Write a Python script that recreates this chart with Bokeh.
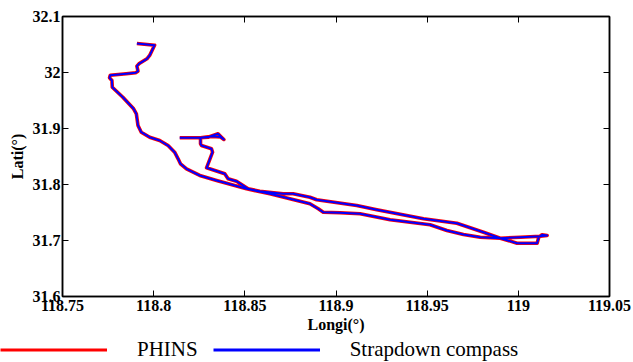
from bokeh.plotting import figure
from bokeh.models import Range1d, FixedTicker, LinearAxis, Legend, LegendItem
from bokeh.layouts import column
from bokeh.embed import file_html
from bokeh.resources import INLINE

# ---- data ----
series_names = ["PHINS", "Strapdown compass"]

phins_lon = [118.8143, 118.8257, 118.8298, 118.8353, 118.8372, 118.8385, 118.8365,
             118.8320, 118.8257, 118.8257, 118.8262, 118.8317, 118.8323, 118.8290,
             118.8390, 118.8408, 118.8454, 118.8518, 118.8582, 118.8710, 118.8765,
             118.8857, 118.8894, 118.9114, 118.9224, 118.9480, 118.9663, 118.9809,
             118.9901, 118.9993, 119.0103, 119.0112, 119.0130, 119.0158, 119.0121,
             119.0011, 118.9901, 118.9791, 118.9699, 118.9608, 118.9516, 118.9297,
             118.9132, 118.9022, 118.8930, 118.8903, 118.8857, 118.8747, 118.8637,
             118.8509, 118.8345, 118.8253, 118.8180, 118.8147, 118.8134, 118.8115,
             118.8079, 118.8033, 118.7978, 118.7932, 118.7914, 118.7905, 118.7890,
             118.7831, 118.7773, 118.7771, 118.7758, 118.7762, 118.7850, 118.7901,
             118.7914, 118.7908, 118.7919, 118.7963, 118.7978, 118.8005, 118.7908]
phins_lat = [31.8834, 31.8834, 31.8845, 31.8905, 31.8845, 31.8804, 31.8850,
             31.8860, 31.8834, 31.8727, 31.8696, 31.8638, 31.8577, 31.8298,
             31.8191, 31.8102, 31.8059, 31.7923, 31.7880, 31.7834, 31.7834,
             31.7773, 31.7727, 31.7625, 31.7548, 31.7387, 31.7309, 31.7148,
             31.7041, 31.6952, 31.6952, 31.7059, 31.7102, 31.7089, 31.7077,
             31.7059, 31.7041, 31.7059, 31.7107, 31.7179, 31.7280, 31.7370,
             31.7477, 31.7495, 31.7505, 31.7566, 31.7655, 31.7745, 31.7834,
             31.7923, 31.8071, 31.8161, 31.8280, 31.8370, 31.8459, 31.8577,
             31.8696, 31.8786, 31.8845, 31.8934, 31.9054, 31.9263, 31.9352,
             31.9559, 31.9737, 31.9857, 31.9905, 31.9952, 31.9977, 31.9995,
             32.0023, 32.0113, 32.0155, 32.0245, 32.0304, 32.0488, 32.0518]

sc_lon = list(phins_lon)
sc_lat = list(phins_lat)

x_ticks = [118.75, 118.8, 118.85, 118.9, 118.95, 119.0, 119.05]
x_tick_labels = ["118.75", "118.8", "118.85", "118.9", "118.95", "119", "119.05"]
y_ticks = [31.6, 31.7, 31.8, 31.9, 32.0, 32.1]
y_tick_labels = ["31.6", "31.7", "31.8", "31.9", "32", "32.1"]

x_label = "Longi(°)"
y_label = "Lati(°)"

RED = "#ff0000"
BLUE = "#0000ff"
FONT = "Liberation Serif"

# ---- main figure ----
p = figure(width=633, height=336, output_backend="svg", toolbar_location=None,
           x_range=Range1d(x_ticks[0], x_ticks[-1]), y_range=Range1d(y_ticks[0], y_ticks[-1]),
           min_border_left=62, min_border_right=24, min_border_top=16, min_border_bottom=40,
           x_axis_label=x_label, y_axis_label=y_label)
p.frame_align = False
p.background_fill_color = "white"
p.border_fill_color = "white"
p.xgrid.visible = False
p.ygrid.visible = False
p.outline_line_color = "black"
p.outline_line_width = 1.5

r_red = p.line(phins_lon, phins_lat, line_color=RED, line_width=3.6, line_join="round")
r_blue = p.line(sc_lon, sc_lat, line_color=BLUE, line_width=2.0, line_join="round")

for ax, ticks, labels in ((p.xaxis[0], x_ticks, x_tick_labels), (p.yaxis[0], y_ticks, y_tick_labels)):
    ax.ticker = FixedTicker(ticks=ticks)
    ax.major_label_overrides = {t: l for t, l in zip(ticks, labels)}
    ax.minor_tick_line_color = None
    ax.major_tick_in = 6
    ax.major_tick_out = 0
    ax.axis_line_width = 1.5
    ax.axis_line_color = "black"
    ax.major_tick_line_color = "black"
    ax.major_label_text_font = FONT
    ax.major_label_text_font_style = "bold"
    ax.major_label_text_font_size = "16px"
    ax.major_label_text_color = "black"
    ax.axis_label_text_font = FONT
    ax.axis_label_text_font_style = "bold"
    ax.axis_label_text_font_size = "16px"
    ax.axis_label_text_color = "black"

p.xaxis[0].major_label_standoff = 3
p.xaxis[0].axis_label_standoff = 2
p.yaxis[0].major_label_standoff = 2
p.yaxis[0].axis_label_standoff = 4

top = LinearAxis(ticker=FixedTicker(ticks=x_ticks), major_label_text_font_size="1px",
                 major_label_text_color=None, major_label_standoff=0,
                 major_tick_in=6, major_tick_out=0,
                 minor_tick_line_color=None, axis_line_width=1.5)
right = LinearAxis(ticker=FixedTicker(ticks=y_ticks), major_label_text_font_size="1px",
                   major_label_text_color=None, major_label_standoff=0,
                   major_tick_in=6, major_tick_out=0,
                   minor_tick_line_color=None, axis_line_width=1.5)
p.add_layout(top, "above")
p.add_layout(right, "right")

# ---- legend strip (full width, below the plot) ----
q = figure(width=633, height=26, output_backend="svg", toolbar_location=None,
           x_range=Range1d(0, 1), y_range=Range1d(0, 1),
           min_border_left=0, min_border_right=0, min_border_top=0, min_border_bottom=0)
q.frame_align = False
q.axis.visible = False
q.grid.visible = False
q.outline_line_color = None
q.background_fill_color = "white"
q.border_fill_color = "white"
l_red = q.line(phins_lon, phins_lat, line_color=RED, line_width=3.2)
l_blue = q.line(sc_lon, sc_lat, line_color=BLUE, line_width=3.2)
leg = Legend(items=[LegendItem(label=series_names[0], renderers=[l_red]),
                    LegendItem(label=series_names[1], renderers=[l_blue])],
             orientation="horizontal", location="left",
             glyph_width=107, glyph_height=20, label_standoff=30, spacing=15,
             padding=0, margin=0, border_line_alpha=0, background_fill_alpha=0,
             label_text_font=FONT, label_text_font_size="21px", label_text_color="black")
q.add_layout(leg)

layout = column(p, q, spacing=0)
open("out.html", "w").write(file_html(layout, INLINE))
